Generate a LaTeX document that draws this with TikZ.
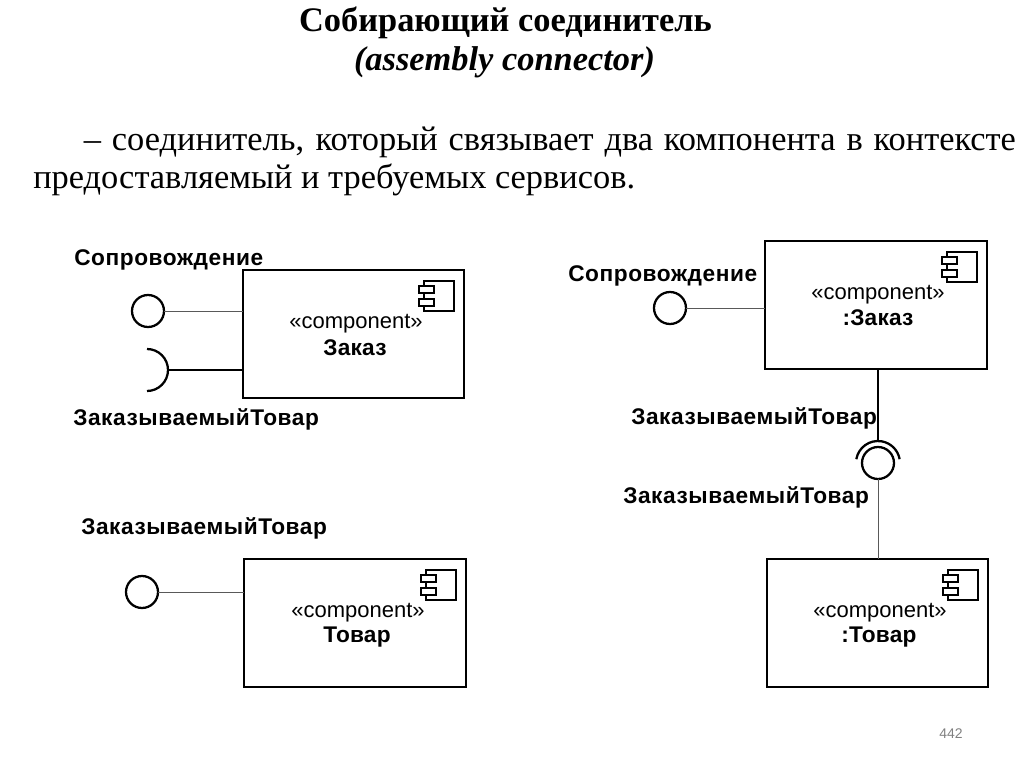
\documentclass[tikz,border=0pt]{standalone}
\usepackage{fontspec}
\setmainfont{Liberation Serif}
\newfontfamily\umlfont[LetterSpace=2.5]{Liberation Sans Bold}
\newfontfamily\namefont[LetterSpace=1]{Liberation Sans Bold}
\newfontfamily\stereofont{Liberation Sans}
\tikzset{
	compbox/.style={draw,line width=1.9pt,inner sep=0pt,outer sep=0pt,anchor=north west,minimum width=#1*0.75pt,minimum height=96pt},
	ball/.style={circle,draw,line width=1.7pt,minimum size=24pt,inner sep=0pt,outer sep=0pt},
	thinlink/.style={line width=0.7pt,draw=black!65},
	thicklink/.style={line width=1.7pt},
	umllabel/.style={font=\umlfont\fontsize{17}{20}\selectfont,inner sep=0pt},
	stereo/.style={font=\stereofont\fontsize{16.5}{18}\selectfont,inner sep=0pt},
	compname/.style={font=\namefont\fontsize{17}{18}\selectfont,inner sep=0pt}
}
\begin{document}
\begin{tikzpicture}[x=0.75pt,y=-0.75pt]
	\useasboundingbox (0,0) rectangle (1024,767);
	% heading
	\node[font=\bfseries\fontsize{25.8}{30}\selectfont,inner sep=0pt] (title) at (505.5,23) {Собирающий соединитель};
	\node[font=\bfseries\itshape\fontsize{25.8}{30}\selectfont,inner sep=0pt] (subtitle) at (504.5,62) {(assembly connector)};
	\node[font=\fontsize{25.8}{28.5}\selectfont,inner sep=0pt,anchor=north west,text width=737pt,align=justify] (body) at (33,127)
		{\hspace*{38pt}– соединитель, который связывает два компонента в контексте предоставляемый и требуемых сервисов.};
	% components
	\node[compbox=221] (zakaz) at (243,270) {};
	\node[compbox=222] (tovar) at (244,559) {};
	\node[compbox=222] (zakazI) at (765,241) {};
	\node[compbox=221] (tovarI) at (767,559) {};
	\foreach \b in {zakaz,tovar,zakazI,tovarI}{
		\draw[line width=1.4pt] ([shift={(-40,11)}]\b.north east) rectangle ([shift={(-10,41)}]\b.north east);
		\draw[line width=1.4pt,fill=white] ([shift={(-45,16)}]\b.north east) rectangle ([shift={(-30,23)}]\b.north east);
		\draw[line width=1.4pt,fill=white] ([shift={(-45,29)}]\b.north east) rectangle ([shift={(-30,36)}]\b.north east);
	}
	\node[stereo] (st1) at (356,324) {«component»};
	\node[compname] (nm1) at (355,348) {Заказ};
	\node[stereo] (st2) at (358,613) {«component»};
	\node[compname] (nm2) at (357,637) {Товар};
	\node[stereo] (st3) at (878,295) {«component»};
	\node[compname] (nm3) at (878,318) {:Заказ};
	\node[stereo] (st4) at (880,613) {«component»};
	\node[compname] (nm4) at (879,637) {:Товар};
	% interfaces, left
	\node[ball] (ballA) at (148,311) {};
	\draw[thinlink] (ballA.east) -- (zakaz.west |- ballA);
	\coordinate (sockA) at (168,370);
	\draw[thicklink] (147,349) arc[start angle=-90,end angle=90,radius=21];
	\draw[thicklink] (sockA) -- (zakaz.west |- sockA);
	\node[ball] (ballB) at (142,592) {};
	\draw[thinlink] (ballB.east) -- (tovar.west |- ballB);
	% interfaces, right
	\node[ball] (ballC) at (670,308) {};
	\draw[thinlink] (ballC.east) -- (zakazI.west |- ballC);
	\node[ball] (ballD) at (878,463) {};
	\coordinate (sockD) at (878,441);
	\draw[thicklink] (856.3,459.2) arc[start angle=190,end angle=350,radius=22];
	\draw[thicklink] (sockD) -- (zakazI.south -| sockD);
	\draw[thinlink] (ballD.south) -- (tovarI.north -| ballD);
	% labels
	\node[umllabel,anchor=west] (lblA) at (74,260) {Сопровождение};
	\node[umllabel,anchor=west] (lblB) at (73,419) {ЗаказываемыйТовар};
	\node[umllabel,anchor=west] (lblC) at (81,528) {ЗаказываемыйТовар};
	\node[umllabel,anchor=west] (lblD) at (568,276) {Сопровождение};
	\node[umllabel,anchor=west] (lblE) at (631,418) {ЗаказываемыйТовар};
	\node[umllabel,anchor=west] (lblF) at (623,497) {ЗаказываемыйТовар};
	\node[font=\stereofont\fontsize{10.5}{12}\selectfont,text=black!50,inner sep=0pt] (pageno) at (951,734) {442};
\end{tikzpicture}
\end{document}
